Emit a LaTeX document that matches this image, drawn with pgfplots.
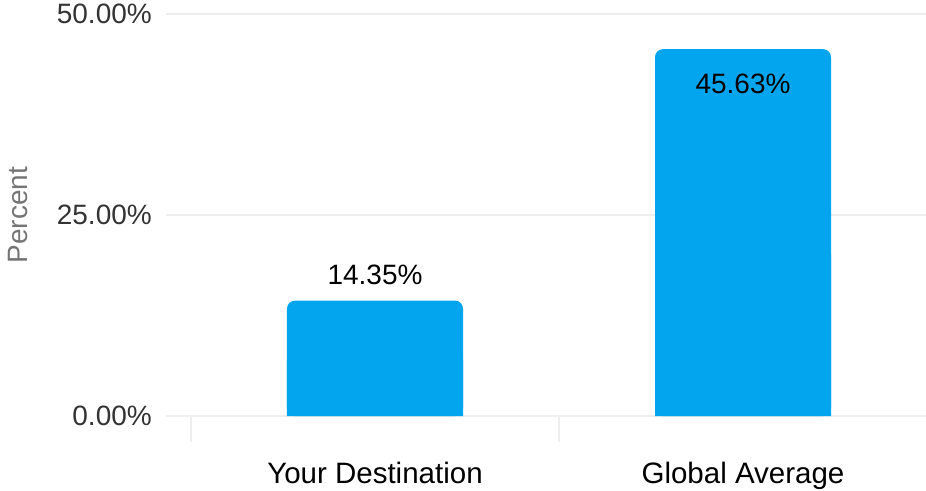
\documentclass[border=0pt]{standalone}
\usepackage{pgfplots}
\pgfplotsset{compat=1.18}
\usepackage{fontspec}
\setmainfont{Liberation Sans}

\definecolor{barblue}{RGB}{3,166,238}
\definecolor{gridgray}{RGB}{238,238,238}
\definecolor{ticktext}{RGB}{51,51,51}
\definecolor{labelgray}{RGB}{117,117,117}

\begin{document}
\fontsize{28bp}{34bp}\selectfont
\begin{tikzpicture}
\begin{axis}[
    at={(0,0)}, anchor=south west,
    scale only axis,
    width=760bp, height=402bp,
    xmin=-0.567935, xmax=1.497283,
    ymin=0, ymax=50,
    clip=false,
    axis line style={draw=none},
    ybar,
    ytick={0,25,50},
    yticklabels={0.00\%,25.00\%,50.00\%},
    yticklabel style={anchor=east, inner sep=0pt, xshift=-14bp, text=ticktext},
    ymajorgrids,
    major grid style={gridgray, line width=2bp},
    major tick length=0pt,
    xtick pos=bottom, ytick pos=left,
    xtick={0,1},
    xticklabels={Your Destination, Global Average},
    xticklabel style={anchor=north, inner sep=0pt, yshift=-46bp, text=black,
        font=\fontsize{29.5bp}{34bp}\selectfont},
    extra x ticks={-0.5,0.5},
    extra x tick labels={},
    extra x tick style={major tick length=26bp, tick align=outside,
        tick style={gridgray, line width=2bp}},
    ylabel={Percent},
    every axis y label/.style={at={(axis description cs:0,0.5)},
        xshift=-147.5bp, rotate=90, anchor=center, text=labelgray},
]
% square lower parts so only the top corners look rounded
\addplot[fill=barblue, draw=none, bar width=176bp, bar shift=0pt]
    coordinates {(0,7) (1,20)};
\addplot[fill=barblue, draw=none, bar width=176bp, bar shift=0pt,
    rounded corners=8bp,
    point meta=explicit symbolic, nodes near coords,
    nodes near coords style={anchor=south, inner sep=0pt, yshift=16bp,
        text=black, rounded corners=0pt}]
    coordinates {(0,14.35) [14.35\%]};
\addplot[fill=barblue, draw=none, bar width=176bp, bar shift=0pt,
    rounded corners=8bp,
    point meta=explicit symbolic, nodes near coords,
    nodes near coords style={anchor=north, inner sep=0pt, yshift=-25bp,
        text=black, rounded corners=0pt}]
    coordinates {(1,45.63) [45.63\%]};
\end{axis}
\pgfresetboundingbox
\path[use as bounding box] (-166bp,-75bp) rectangle (760bp,416bp);
\end{tikzpicture}
\end{document}
